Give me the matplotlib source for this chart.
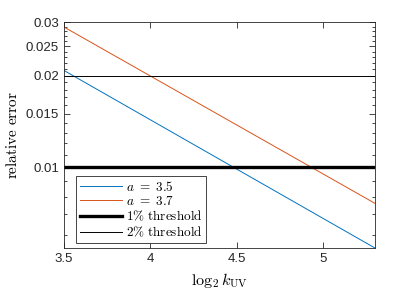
import numpy as np
import matplotlib
matplotlib.use("Agg")
import matplotlib.pyplot as plt
from matplotlib.ticker import FixedLocator, FixedFormatter, MultipleLocator, NullFormatter

plt.rcParams["font.family"] = ["Liberation Sans", "DejaVu Sans"]
plt.rcParams["mathtext.fontset"] = "cm"

# data
k_log2 = [3.5, 5.3]
err_a35 = [0.0208, 0.00542]
err_a37 = [0.0289, 0.0076]
thresh_1 = 0.01
thresh_2 = 0.02

y_ticks = [0.01, 0.015, 0.02, 0.025, 0.03]
y_ticklabels = ["0.01", "0.015", "0.02", "0.025", "0.03"]
x_ticks = [3.5, 4, 4.5, 5]
x_ticklabels = ["3.5", "4", "4.5", "5"]

fig = plt.figure(figsize=(4.15, 2.94), dpi=100)
ax = fig.add_axes([0.154, 0.156, 0.750, 0.769])

ax.plot(k_log2, err_a35, color="#0072BD", lw=0.7, label=r"$a\ =\ 3.5$")
ax.plot(k_log2, err_a37, color="#D95319", lw=0.7, label=r"$a\ =\ 3.7$")
ax.axhline(thresh_1, color="black", lw=2.4, label=r"$1\%\ \mathrm{threshold}$")
ax.axhline(thresh_2, color="black", lw=0.7, label=r"$2\%\ \mathrm{threshold}$")

ax.set_yscale("log")
ax.set_xlim(3.5, 5.3)
ax.set_ylim(0.00542, 0.03)

ax.yaxis.set_major_locator(FixedLocator(y_ticks))
ax.yaxis.set_major_formatter(FixedFormatter(y_ticklabels))
ax.yaxis.set_minor_locator(MultipleLocator(0.001))
ax.yaxis.set_minor_formatter(NullFormatter())
ax.xaxis.set_major_locator(FixedLocator(x_ticks))
ax.xaxis.set_major_formatter(FixedFormatter(x_ticklabels))

ax.tick_params(which="both", direction="in", top=True, right=True,
               colors="#262626", labelcolor="#262626", width=0.6)
ax.tick_params(which="major", length=4, labelsize=9.5)
ax.tick_params(which="minor", length=2)
for s in ax.spines.values():
    s.set_color("#262626")
    s.set_linewidth(0.6)

ax.set_xlabel(r"$\log_2 k_{\mathrm{UV}}$", fontsize=11.5)
ax.set_ylabel(r"$\mathrm{relative\ error}$", fontsize=11)

leg = ax.legend(loc="lower left", bbox_to_anchor=(0.039, 0.022), fontsize=9.5,
                fancybox=False, framealpha=1, edgecolor="#262626",
                borderaxespad=0, handlelength=3.2, handletextpad=0.25,
                labelspacing=0.1, borderpad=0.3)
leg.get_frame().set_linewidth(0.6)

fig.savefig("out.png", dpi=100)
